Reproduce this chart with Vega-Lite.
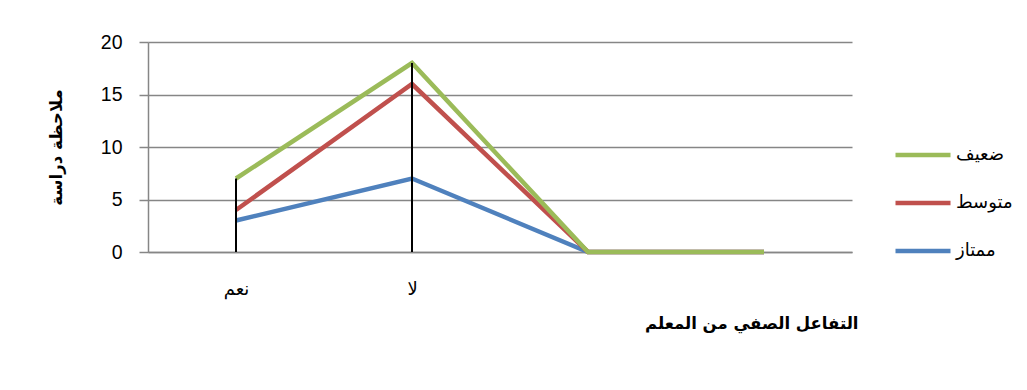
{
  "$schema": "https://vega.github.io/schema/vega-lite/v6.json",
  "autosize": "none",
  "width": 704,
  "height": 210,
  "padding": {"left": 148, "top": 42, "right": 175, "bottom": 138},
  "background": "white",
  "config": {
    "view": {"stroke": null},
    "font": "DejaVu Sans"
  },
  "data": {
    "values": [
      {"category": "نعم", "series": "ممتاز", "value": 3},
      {"category": "لا", "series": "ممتاز", "value": 7},
      {"category": "c3", "series": "ممتاز", "value": 0},
      {"category": "c4", "series": "ممتاز", "value": 0},
      {"category": "نعم", "series": "متوسط", "value": 4},
      {"category": "لا", "series": "متوسط", "value": 16},
      {"category": "c3", "series": "متوسط", "value": 0},
      {"category": "c4", "series": "متوسط", "value": 0},
      {"category": "نعم", "series": "ضعيف", "value": 7},
      {"category": "لا", "series": "ضعيف", "value": 18},
      {"category": "c3", "series": "ضعيف", "value": 0},
      {"category": "c4", "series": "ضعيف", "value": 0}
    ]
  },
  "encoding": {
    "x": {
      "field": "category",
      "type": "nominal",
      "sort": null,
      "scale": {"type": "point", "domain": ["نعم", "لا", "c3", "c4"], "padding": 0.5},
      "axis": {
        "title": "التفاعل الصفي من المعلم",
        "titleFont": "DejaVu Sans",
        "titleFontSize": 16.5,
        "titleFontWeight": "bold",
        "titleColor": "#000000",
        "titleAlign": "right",
        "titleAnchor": "end",
        "titleX": 710,
        "titleY": 71,
        "titleBaseline": "middle",
        "labelExpr": "datum.value === 'c3' || datum.value === 'c4' ? '' : datum.value",
        "labelAngle": 0,
        "labelFont": "DejaVu Sans",
        "labelFontSize": 18,
        "labelColor": "#000000",
        "labelPadding": 28,
        "ticks": false,
        "domain": true,
        "domainColor": "#868686",
        "domainWidth": 1.5,
        "grid": false
      }
    }
  },
  "layer": [
    {
      "mark": {"type": "line", "strokeWidth": 4.5, "strokeCap": "butt", "strokeJoin": "miter"},
      "encoding": {
        "y": {
          "field": "value",
          "type": "quantitative",
          "scale": {"domain": [0, 20], "nice": false},
          "axis": {
            "values": [0, 5, 10, 15, 20],
            "title": "ملاحظة دراسة",
            "titleFont": "DejaVu Sans",
            "titleFontSize": 16.5,
            "titleFontWeight": "bold",
            "titleColor": "#000000",
            "titleAngle": -90,
            "titleX": -92,
            "titleY": 105,
            "titleAlign": "center",
            "titleBaseline": "middle",
            "labelFont": "Liberation Sans",
            "labelFontSize": 19.5,
            "labelColor": "#000000",
            "labelPadding": 17,
            "tickSize": 9,
            "tickColor": "#868686",
            "tickWidth": 1.5,
            "domainColor": "#868686",
            "domainWidth": 1.5,
            "grid": true,
            "gridColor": "#868686",
            "gridWidth": 1.5
          }
        },
        "color": {
          "field": "series",
          "type": "nominal",
          "scale": {
            "domain": ["ضعيف", "متوسط", "ممتاز"],
            "range": ["#9BBB59", "#C0504D", "#4F81BD"]
          },
          "legend": {
            "title": null,
            "orient": "none",
            "legendX": 745,
            "legendY": 83,
            "padding": 0,
            "symbolType": "stroke",
            "symbolSize": 3025,
            "symbolStrokeWidth": 4.5,
            "rowPadding": 9,
            "labelOffset": 3,
            "labelFont": "DejaVu Sans",
            "labelFontSize": 18,
            "labelColor": "#000000"
          }
        },
        "order": {"value": 0}
      }
    },
    {
      "mark": {"type": "rule", "color": "#000000", "strokeWidth": 2},
      "encoding": {
        "y": {"aggregate": "max", "field": "value", "type": "quantitative"},
        "y2": {"datum": 0}
      }
    }
  ]
}
